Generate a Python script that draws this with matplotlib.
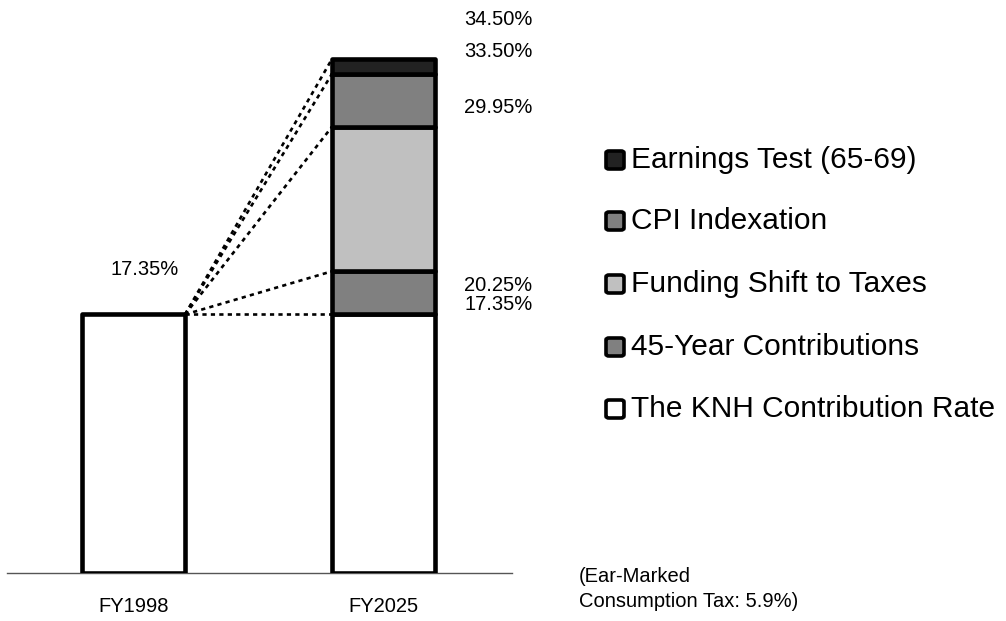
import matplotlib
matplotlib.use("Agg")
import matplotlib.pyplot as plt
from matplotlib.patches import FancyBboxPatch

plt.rcParams['font.family'] = ['Liberation Sans', 'DejaVu Sans']

categories = ["FY1998", "FY2025"]
series_names = ["The KNH Contribution Rate", "45-Year Contributions",
                "Funding Shift to Taxes", "CPI Indexation", "Earnings Test (65-69)"]
# segment sizes (percentage points)
fy1998 = [17.35, 0, 0, 0, 0]
fy2025 = [17.35, 2.90, 9.70, 3.55, 1.00]
cum_labels_2025 = [17.35, 20.25, 29.95, 33.50, 34.50]
total_1998 = 17.35
colors = ["#ffffff", "#808080", "#c0c0c0", "#808080", "#222222"]
note = "(Ear-Marked\nConsumption Tax: 5.9%)"

W, H = 1006, 621
fig = plt.figure(figsize=(W / 100, H / 100), dpi=100)
px = 14.9  # pixels per percentage point
ax = fig.add_axes([7 / W, (H - 573) / H, 505 / W, 573 / H])
ax.set_ylim(0, 573 / px)
ax.set_xlim(-0.506, 1.514)

bw = 0.412
xs = [0, 1]
for data, x in zip([fy1998, fy2025], xs):
    bottom = 0
    for v, c in zip(data, colors):
        if v <= 0:
            continue
        ax.bar(x, v, bottom=bottom, width=bw, color=c, edgecolor="black",
               linewidth=3.3, zorder=3, joinstyle="round")
        bottom += v

# dashed connectors
x0 = xs[0] + bw / 2
x1 = xs[1] - bw / 2
for v in cum_labels_2025:
    ax.plot([x0, x1], [total_1998, v], color="black", lw=1.9,
            linestyle=(0, (1.6, 1.6)), zorder=2)

# value labels
offsets = [10, -14, 19, 22, 39]
for v, off in zip(cum_labels_2025, offsets):
    ax.annotate(f"{v:.2f}%", xy=(xs[1] + bw / 2, v), xytext=(29, off),
                textcoords="offset pixels", ha="left", va="center", fontsize=14.5)
ax.annotate(f"{total_1998:.2f}%", xy=(xs[0], total_1998), xytext=(11, 45),
            textcoords="offset pixels", ha="center", va="center", fontsize=14.5)

ax.set_xticks(xs)
ax.set_xticklabels(categories, fontsize=14.5)
ax.tick_params(axis="x", length=0, pad=17)
ax.set_yticks([])
for s in ["top", "right", "left"]:
    ax.spines[s].set_visible(False)
ax.spines["bottom"].set_color("#555555")
ax.spines["bottom"].set_linewidth(1.0)
ax.spines["bottom"].set_zorder(1)

# legend (manual, top to bottom)
leg_y = [160, 221, 284, 347, 409]
for name, c, y in zip(series_names[::-1], colors[::-1], leg_y):
    sq = FancyBboxPatch(((606) / W, (H - y - 9) / H), 18 / W, 18 / H,
                        boxstyle="round,pad=0,rounding_size=0.003",
                        transform=fig.transFigure, facecolor=c,
                        edgecolor="black", linewidth=2.6)
    fig.patches.append(sq)
    fig.text(631 / W, (H - y) / H, name, fontsize=21.5, ha="left", va="center")

fig.text(579 / W, (H - 589) / H, note, fontsize=14.5, ha="left", va="center",
         linespacing=1.45)

fig.savefig("out.png", dpi=100)
